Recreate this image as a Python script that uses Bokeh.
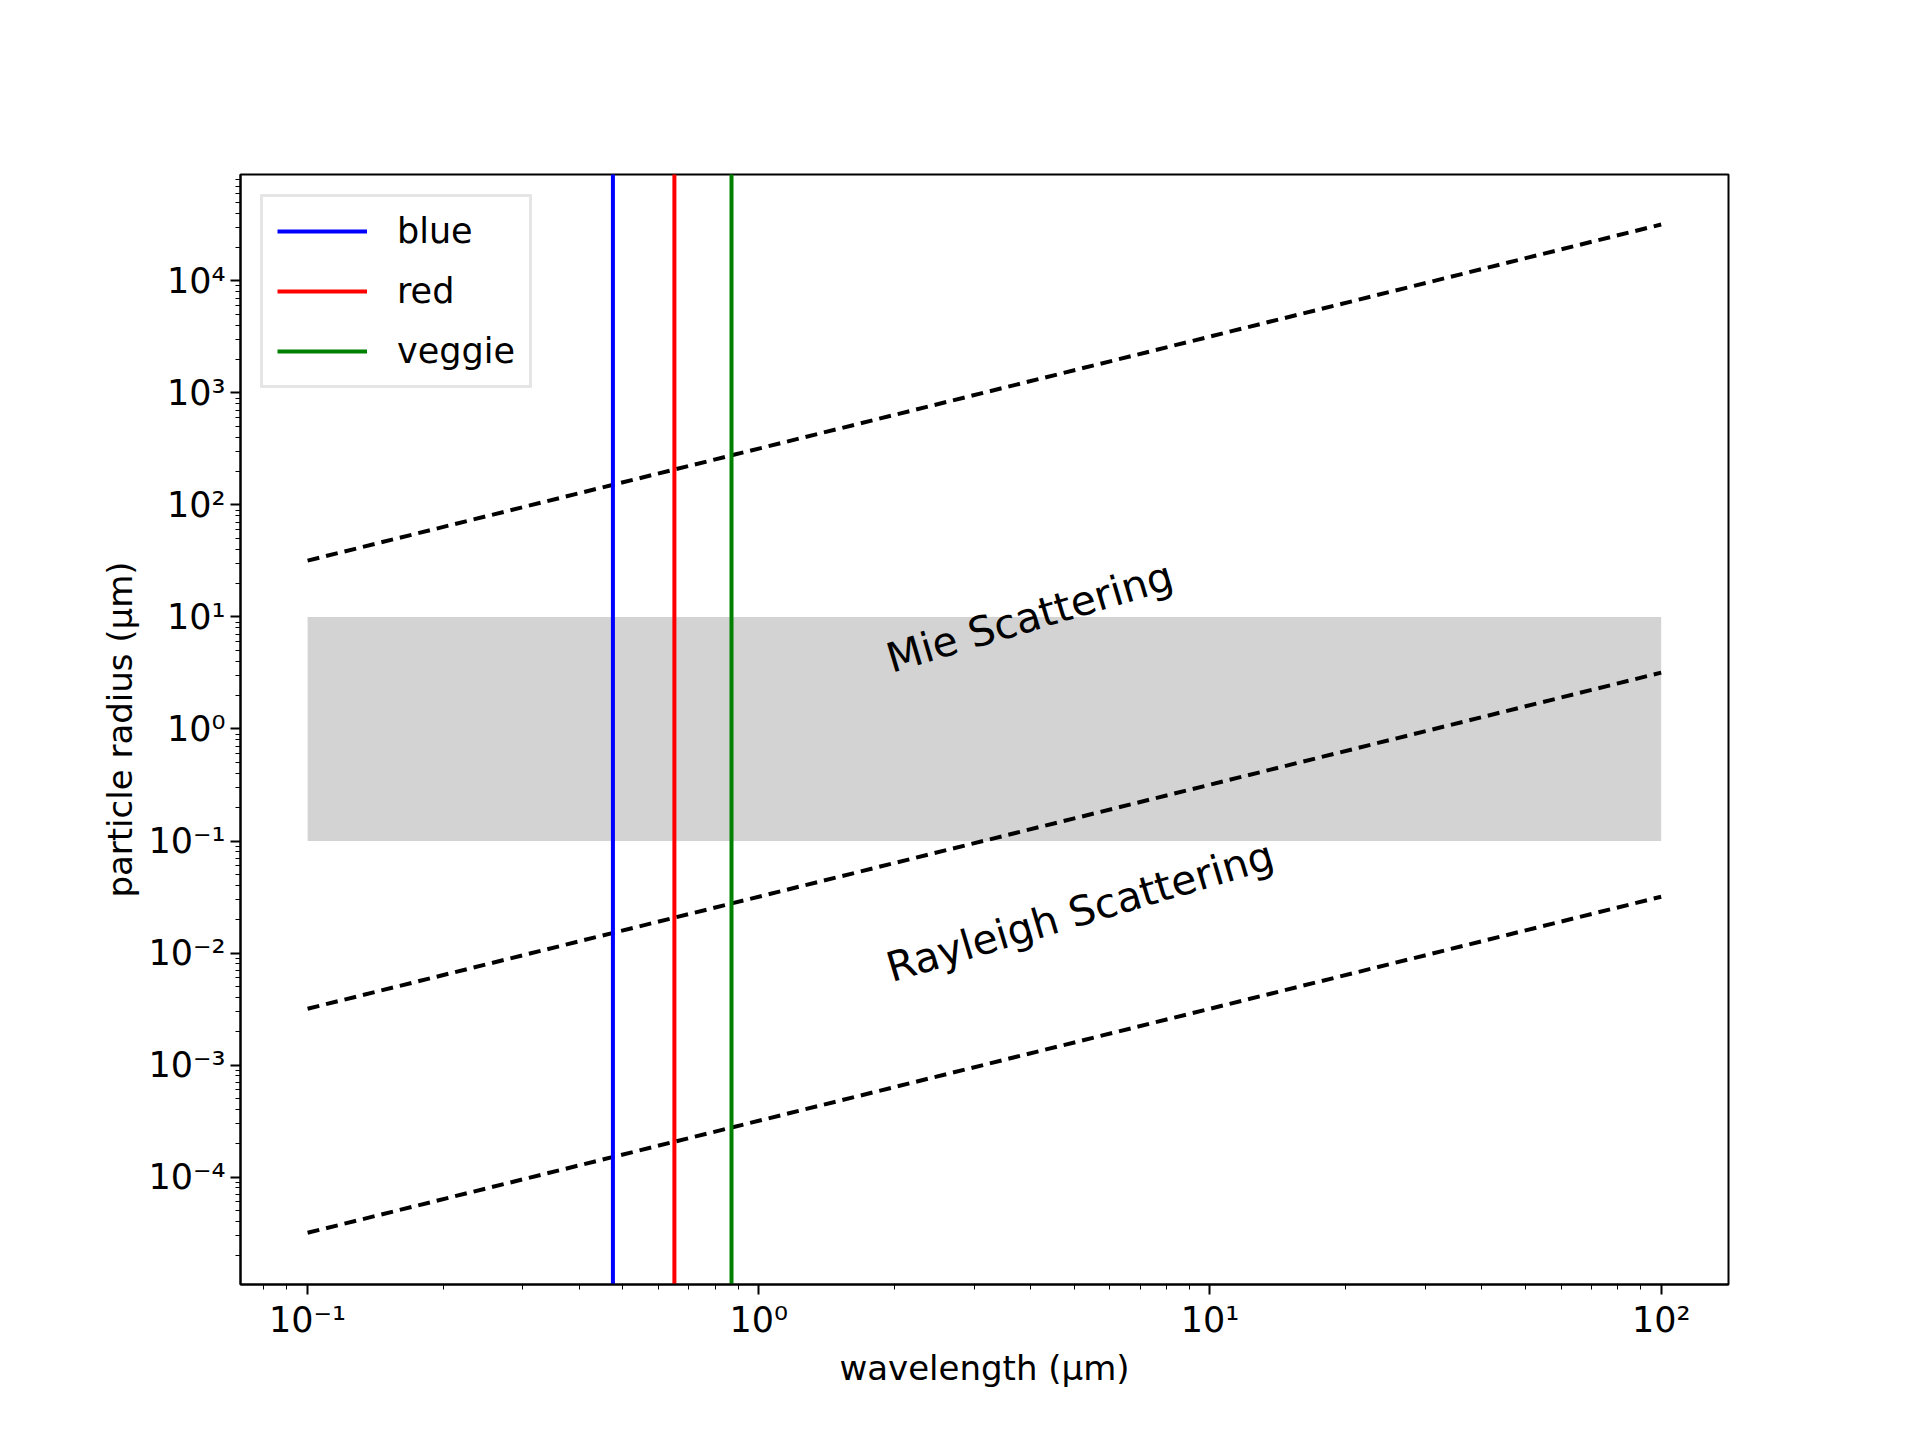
import numpy as np
from bokeh.plotting import figure
from bokeh.models import FixedTicker, Legend, LegendItem
from bokeh.core.properties import value
from bokeh.embed import file_html
from bokeh.resources import INLINE

wavelength = [0.1, 100.0]
size_params = [2000.0, 0.2, 0.002]
band_lo, band_hi = 0.1, 10.0
colour_names = ["blue", "red", "veggie"]
colour_waves = [0.475, 0.65, 0.87]
line_colours = ["blue", "red", "green"]
x_exps = [-1, 0, 1, 2]
y_exps = [-4, -3, -2, -1, 0, 1, 2, 3, 4]

SUP = str.maketrans("-0123456789", "⁻⁰¹²³⁴⁵⁶⁷⁸⁹")
def lab(e):
    return "10" + str(e).translate(SUP)

p = figure(width=1904, height=1424, x_axis_type="log", y_axis_type="log",
           x_range=(0.071, 141), y_range=(1.1e-5, 8.9e4),
           output_backend="svg", toolbar_location=None,
           min_border_left=240, min_border_right=176, min_border_top=174, min_border_bottom=140,
           x_axis_label="wavelength (μm)", y_axis_label="particle radius (μm)")
p.background_fill_color = "white"
p.grid.visible = False
p.outline_line_color = "black"
p.outline_line_width = 2

p.quad(left=wavelength[0], right=wavelength[1], bottom=band_lo, top=band_hi,
       color="#d3d3d3", line_color=None)

lam = np.array(wavelength)
for xp in size_params:
    p.line(lam, xp * lam / (2 * np.pi), line_color="black", line_width=4, line_dash="12 7")

items = []
for name, w, c in zip(colour_names, colour_waves, line_colours):
    r = p.line([w, w], [1e-6, 1e6], line_color=c, line_width=4)
    items.append(LegendItem(label=name, renderers=[r]))

ang = 0.29
p.text(x=[2.0], y=[2.6], text=["Mie Scattering"], angle=ang, text_font=value("DejaVu Sans"),
       text_font_size="41px", text_color="black", text_baseline="bottom")
p.text(x=[2.0], y=[0.0045], text=["Rayleigh Scattering"], angle=ang, text_font=value("DejaVu Sans"),
       text_font_size="41px", text_color="black", text_baseline="bottom")

leg = Legend(items=items, location="top_left", label_text_font_size="35px",
             label_text_font="DejaVu Sans", label_text_color="black",
             glyph_width=90, glyph_height=40, spacing=20, padding=14, margin=20,
             border_line_color="#cccccc", border_line_width=3, label_standoff=30)
p.add_layout(leg)

p.xaxis.ticker = FixedTicker(ticks=[10.0 ** e for e in x_exps],
                             minor_ticks=[m * 10.0 ** e for e in range(-2, 3) for m in range(2, 10)])
p.yaxis.ticker = FixedTicker(ticks=[10.0 ** e for e in y_exps],
                             minor_ticks=[m * 10.0 ** e for e in range(-6, 5) for m in range(2, 10)])
p.xaxis.major_label_overrides = {10.0 ** e: lab(e) for e in x_exps}
p.yaxis.major_label_overrides = {10.0 ** e: lab(e) for e in y_exps}
for ax in (p.xaxis, p.yaxis):
    ax.major_label_text_font_size = "35px"
    ax.major_label_text_font = "DejaVu Sans"
    ax.axis_label_text_font_size = "34px"
    ax.axis_label_text_font = "DejaVu Sans"
    ax.axis_label_text_font_style = "normal"
    ax.axis_label_text_color = "black"
    ax.major_tick_line_width = 2
    ax.major_tick_out = 10
    ax.major_tick_in = 0
    ax.minor_tick_out = 5
    ax.minor_tick_in = 0
    ax.axis_line_width = 2
    ax.major_label_text_color = "black"

open("out.html", "w").write(file_html(p, INLINE))
